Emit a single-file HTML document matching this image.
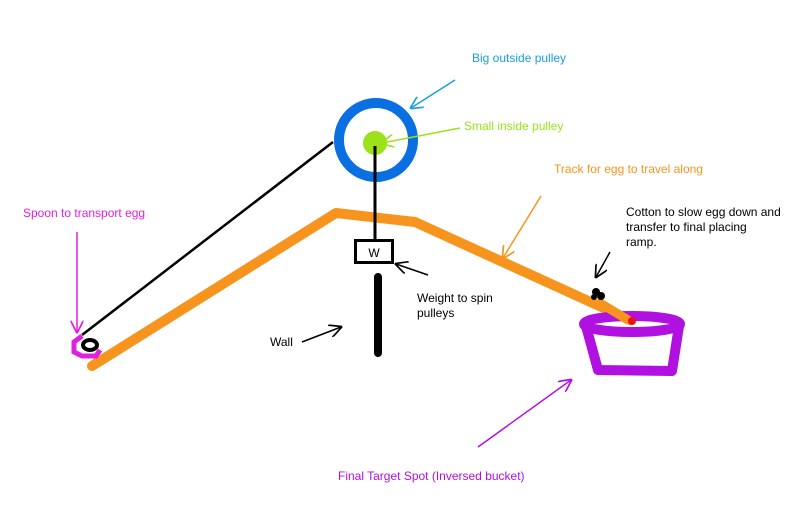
<!DOCTYPE html>
<html><head><style>body{margin:0;background:#fff}svg{display:block}text{font-family:"Liberation Sans",sans-serif;font-size:12px}</style></head>
<body>
<svg width="789" height="506" viewBox="0 0 789 506" xmlns="http://www.w3.org/2000/svg">
<defs>
<marker id="a" viewBox="0 0 10 10" refX="9" refY="5" markerWidth="13" markerHeight="13" orient="auto-start-reverse" markerUnits="userSpaceOnUse"><path d="M0,0L10,5L0,10" fill="none" stroke="context-stroke" stroke-width="1.3"/></marker>
</defs>
<rect width="789" height="506" fill="#fff"/>
<line x1="333" y1="142" x2="82" y2="335" stroke="#000" stroke-width="2.5"/>
<polyline points="92,366 336,213 415,222 630,320" fill="none" stroke="#f7941d" stroke-width="10" stroke-linejoin="round" stroke-linecap="round"/>
<circle cx="376" cy="140" r="37" fill="none" stroke="#0a6fe0" stroke-width="10"/>
<circle cx="375" cy="143" r="12" fill="#9be21a"/>
<line x1="375" y1="146" x2="375" y2="240" stroke="#000" stroke-width="3"/>
<rect x="355.5" y="240.5" width="37" height="22" fill="#fff" stroke="#000" stroke-width="3"/>
<text x="374" y="257" text-anchor="middle">W</text>
<line x1="378" y1="277" x2="378" y2="353" stroke="#000" stroke-width="8" stroke-linecap="round"/>
<ellipse cx="632" cy="324" rx="48" ry="8" fill="none" stroke="#b010e0" stroke-width="10"/>
<path d="M586,326 L598,370 L672,371 L679,326" fill="none" stroke="#b010e0" stroke-width="10" stroke-linejoin="round"/>
<line x1="600" y1="303" x2="628" y2="320" stroke="#f7941d" stroke-width="9" stroke-linecap="round"/>
<circle cx="632" cy="321" r="4" fill="#ee1111"/>
<circle cx="596" cy="292" r="4" fill="#000"/><circle cx="601" cy="296" r="4" fill="#000"/><circle cx="594" cy="297" r="3" fill="#000"/>
<path d="M82,336 L74,342 L74,352 L82,356 L96,356 L100,350" fill="none" stroke="#e020e0" stroke-width="5"/>
<ellipse cx="90" cy="345" rx="7" ry="5" fill="none" stroke="#000" stroke-width="4"/>
<g fill="none" stroke-width="1.5">
<line x1="455" y1="80" x2="411" y2="108" stroke="#1aa0e0" marker-end="url(#a)"/>
<line x1="460" y1="128" x2="382" y2="143" stroke="#9be21a" marker-end="url(#a)"/>
<line x1="541" y1="196" x2="503" y2="258" stroke="#f7941d" marker-end="url(#a)"/>
<line x1="428" y1="275" x2="396" y2="264" stroke="#000" marker-end="url(#a)"/>
<line x1="610" y1="252" x2="596" y2="277" stroke="#000" marker-end="url(#a)"/>
<line x1="302" y1="342" x2="341" y2="327" stroke="#000" marker-end="url(#a)"/>
<line x1="77" y1="232" x2="77" y2="332" stroke="#e020e0" marker-end="url(#a)"/>
<line x1="478" y1="447" x2="571" y2="380" stroke="#b010e0" marker-end="url(#a)"/>
</g>
<text x="472" y="62" fill="#1aa0e0">Big outside pulley</text>
<text x="464" y="130" fill="#9be21a">Small inside pulley</text>
<text x="554" y="173" fill="#f7941d">Track for egg to travel along</text>
<text x="23" y="217" fill="#e020e0">Spoon to transport egg</text>
<text x="626" y="216">Cotton to slow egg down and</text>
<text x="626" y="231">transfer to final placing</text>
<text x="626" y="246">ramp.</text>
<text x="417" y="302">Weight to spin</text>
<text x="417" y="317">pulleys</text>
<text x="270" y="346">Wall</text>
<text x="338" y="480" fill="#b010e0">Final Target Spot (Inversed bucket)</text>
</svg>
</body></html>
